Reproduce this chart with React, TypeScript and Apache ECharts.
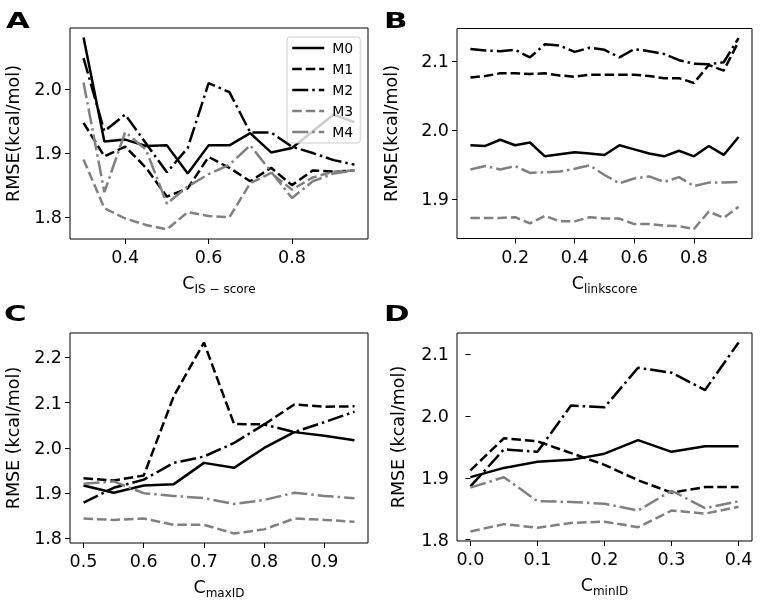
import React, { useEffect, useRef } from "react";
import * as echarts from "echarts";

const names = ["M0", "M1", "M2", "M3", "M4"];

const xA = [0.3, 0.35, 0.4, 0.45, 0.5, 0.55, 0.6, 0.65, 0.7, 0.75, 0.8, 0.85, 0.9, 0.95];
const aM0 = [2.080, 1.918, 1.921, 1.911, 1.912, 1.868, 1.912, 1.912, 1.931, 1.901, 1.908, 1.934, 1.960, 1.948];
const aM1 = [1.947, 1.895, 1.910, 1.877, 1.832, 1.845, 1.894, 1.877, 1.856, 1.877, 1.850, 1.873, 1.871, 1.873];
const aM2 = [2.048, 1.934, 1.960, 1.915, 1.870, 1.908, 2.009, 1.995, 1.932, 1.932, 1.910, 1.900, 1.889, 1.882];
const aM3 = [1.890, 1.814, 1.798, 1.788, 1.781, 1.808, 1.802, 1.800, 1.853, 1.869, 1.843, 1.862, 1.871, 1.873];
const aM4 = [2.010, 1.839, 1.933, 1.905, 1.821, 1.848, 1.867, 1.882, 1.912, 1.871, 1.830, 1.856, 1.868, 1.873];

const xB = [0.05, 0.1, 0.15, 0.2, 0.25, 0.3, 0.35, 0.4, 0.45, 0.5, 0.55, 0.6, 0.65, 0.7, 0.75, 0.8, 0.85, 0.9, 0.95];
const bM0 = [1.978, 1.977, 1.986, 1.978, 1.982, 1.962, 1.965, 1.968, 1.966, 1.964, 1.978, 1.972, 1.966, 1.962, 1.970, 1.962, 1.977, 1.964, 1.990];
const bM1 = [2.076, 2.078, 2.082, 2.082, 2.081, 2.082, 2.079, 2.077, 2.080, 2.080, 2.080, 2.080, 2.078, 2.075, 2.075, 2.068, 2.094, 2.086, 2.128];
const bM2 = [2.117, 2.115, 2.114, 2.116, 2.105, 2.124, 2.122, 2.113, 2.119, 2.116, 2.105, 2.117, 2.114, 2.110, 2.101, 2.096, 2.095, 2.098, 2.133];
const bM3 = [1.873, 1.873, 1.873, 1.874, 1.865, 1.876, 1.868, 1.868, 1.874, 1.872, 1.872, 1.864, 1.864, 1.862, 1.861, 1.857, 1.882, 1.873, 1.889];
const bM4 = [1.943, 1.948, 1.943, 1.948, 1.938, 1.939, 1.940, 1.944, 1.949, 1.935, 1.923, 1.930, 1.933, 1.925, 1.932, 1.919, 1.924, 1.924, 1.925];

const xC = [0.5, 0.55, 0.6, 0.65, 0.7, 0.75, 0.8, 0.85, 0.9, 0.95];
const cM0 = [1.917, 1.901, 1.917, 1.920, 1.967, 1.956, 2.000, 2.035, 2.027, 2.017];
const cM1 = [1.933, 1.928, 1.939, 2.115, 2.233, 2.053, 2.052, 2.096, 2.091, 2.092];
const cM2 = [1.879, 1.912, 1.930, 1.967, 1.981, 2.011, 2.052, 2.035, 2.057, 2.080];
const cM3 = [1.844, 1.841, 1.844, 1.830, 1.830, 1.811, 1.820, 1.844, 1.841, 1.837];
const cM4 = [1.921, 1.926, 1.900, 1.894, 1.889, 1.876, 1.885, 1.901, 1.894, 1.889];

const xD = [0.0, 0.05, 0.1, 0.15, 0.2, 0.25, 0.3, 0.35, 0.4];
const dM0 = [1.901, 1.916, 1.926, 1.929, 1.939, 1.961, 1.942, 1.951, 1.951];
const dM1 = [1.912, 1.964, 1.959, 1.940, 1.921, 1.896, 1.876, 1.885, 1.885];
const dM2 = [1.886, 1.946, 1.942, 2.017, 2.014, 2.078, 2.070, 2.042, 2.119];
const dM3 = [1.813, 1.825, 1.819, 1.827, 1.829, 1.820, 1.847, 1.842, 1.853];
const dM4 = [1.884, 1.901, 1.862, 1.861, 1.858, 1.847, 1.879, 1.851, 1.862];

const xTicksA = [0.4, 0.6, 0.8];
const yTicksA = [1.8, 1.9, 2.0];
const xTicksB = [0.2, 0.4, 0.6, 0.8];
const yTicksB = [1.9, 2.0, 2.1];
const xTicksC = [0.5, 0.6, 0.7, 0.8, 0.9];
const yTicksC = [1.8, 1.9, 2.0, 2.1, 2.2];
const xTicksD = [0.0, 0.1, 0.2, 0.3, 0.4];
const yTicksD = [1.8, 1.9, 2.0, 2.1];

const panels = [
  { x: xA, ys: [aM0, aM1, aM2, aM3, aM4], xt: xTicksA, yt: yTicksA, sub: "IS − score", yName: "RMSE(kcal/mol)", letter: "A" },
  { x: xB, ys: [bM0, bM1, bM2, bM3, bM4], xt: xTicksB, yt: yTicksB, sub: "linkscore", yName: "RMSE(kcal/mol)", letter: "B" },
  { x: xC, ys: [cM0, cM1, cM2, cM3, cM4], xt: xTicksC, yt: yTicksC, sub: "maxID", yName: "RMSE (kcal/mol)", letter: "C" },
  { x: xD, ys: [dM0, dM1, dM2, dM3, dM4], xt: xTicksD, yt: yTicksD, sub: "minID", yName: "RMSE (kcal/mol)", letter: "D" },
];

const grids = [
  { left: 70, top: 28, width: 298, height: 211 },
  { left: 457, top: 28.5, width: 295, height: 210 },
  { left: 70, top: 333, width: 298, height: 210 },
  { left: 457, top: 333, width: 295, height: 208 },
];
const yNameGaps = [48, 57, 48, 50];
const letterPos = [
  [6, 9],
  [384, 9],
  [4, 302],
  [384, 302],
];

const BLACK = "#000000";
const GREY = "#808080";
const seriesStyle = [
  { color: BLACK, type: "solid" },
  { color: BLACK, type: [9.5, 4] },
  { color: BLACK, type: [16, 4, 2.5, 4] },
  { color: GREY, type: [9.5, 4] },
  { color: GREY, type: [16, 4, 2.5, 4] },
];

function pad(arr: number[], frac = 0.05) {
  const mn = Math.min(...arr);
  const mx = Math.max(...arr);
  const d = (mx - mn) * frac;
  return [mn - d, mx + d];
}

export default function App() {
  const ref = useRef<HTMLDivElement>(null);
  useEffect(() => {
    if (!ref.current) return;
    const chart = echarts.init(ref.current, null, { renderer: "svg" });
    const font = "DejaVu Sans";
    const xAxis: any[] = [];
    const yAxis: any[] = [];
    const series: any[] = [];
    const graphic: any[] = [];
    panels.forEach((p, gi) => {
      const [xmin, xmax] = pad(p.x);
      const [ymin, ymax] = pad(p.ys.flat());
      xAxis.push({
        type: "value",
        gridIndex: gi,
        min: xmin,
        max: xmax,
        splitLine: { show: false },
        axisLine: { show: false },
        axisTick: { show: true, customValues: p.xt, length: 5, lineStyle: { color: "#000", width: 1 } },
        axisLabel: {
          customValues: p.xt,
          formatter: (v: number) => v.toFixed(1),
          fontSize: 17.5,
          color: "#000",
          margin: 9,
          fontFamily: font,
        },
        name: `{c|C}{s|${p.sub}}`,
        nameLocation: "middle",
        nameGap: 32,
        nameTextStyle: {
          color: "#000",
          fontFamily: font,
          rich: {
            c: { fontSize: 17.5, lineHeight: 24, color: "#000", fontFamily: font },
            s: { fontSize: 12, lineHeight: 12, verticalAlign: "bottom", color: "#000", fontFamily: font },
          },
        },
      });
      yAxis.push({
        type: "value",
        gridIndex: gi,
        min: ymin,
        max: ymax,
        splitLine: { show: false },
        axisLine: { show: false },
        axisTick: { show: true, customValues: p.yt, length: 5, lineStyle: { color: "#000", width: 1 } },
        axisLabel: {
          customValues: p.yt,
          formatter: (v: number) => v.toFixed(1),
          fontSize: 17.5,
          color: "#000",
          margin: 8,
          fontFamily: font,
        },
        name: p.yName,
        nameLocation: "middle",
        nameRotate: 90,
        nameGap: yNameGaps[gi],
        nameTextStyle: { fontSize: 17.5, color: "#000", fontFamily: font },
      });
      p.ys.forEach((ys, si) => {
        series.push({
          type: "line",
          name: names[si],
          xAxisIndex: gi,
          yAxisIndex: gi,
          data: p.x.map((xv, i) => [xv, ys[i]]),
          symbol: "none",
          showSymbol: false,
          lineStyle: { color: seriesStyle[si].color, width: 2.5, type: seriesStyle[si].type, cap: "butt" },
          itemStyle: { color: seriesStyle[si].color },
          emphasis: { disabled: true },
          silent: true,
        });
      });
      graphic.push({
        type: "text",
        x: letterPos[gi][0],
        y: letterPos[gi][1],
        scaleX: 1.4,
        style: {
          text: p.letter,
          font: `bold 22px "${font}"`,
          fill: "#000",
          verticalAlign: "top",
          align: "left",
        },
      });
    });

    chart.setOption({
      animation: false,
      textStyle: { fontFamily: font },
      grid: grids.map((g) => ({ ...g, show: true, borderColor: "#000", borderWidth: 1, backgroundColor: "transparent", containLabel: false })),
      xAxis,
      yAxis,
      series,
      graphic,
      legend: {
        data: names,
        orient: "vertical",
        left: 287,
        top: 37,
        itemWidth: 32,
        itemHeight: 14,
        itemGap: 7,
        padding: [4, 7, 4, 4],
        backgroundColor: "rgba(255,255,255,0.8)",
        borderColor: "#cccccc",
        borderWidth: 1,
        borderRadius: 3,
        selectedMode: false,
        itemStyle: { opacity: 0, borderWidth: 0 },
        lineStyle: { width: 2.5 },
        textStyle: { fontSize: 14, color: "#000", fontFamily: font, padding: [0, 0, 0, 3] },
      },
    });
    return () => chart.dispose();
  }, []);
  return <div ref={ref} style={{ position: "fixed", left: 0, top: 0, width: 760, height: 601 }} />;
}
